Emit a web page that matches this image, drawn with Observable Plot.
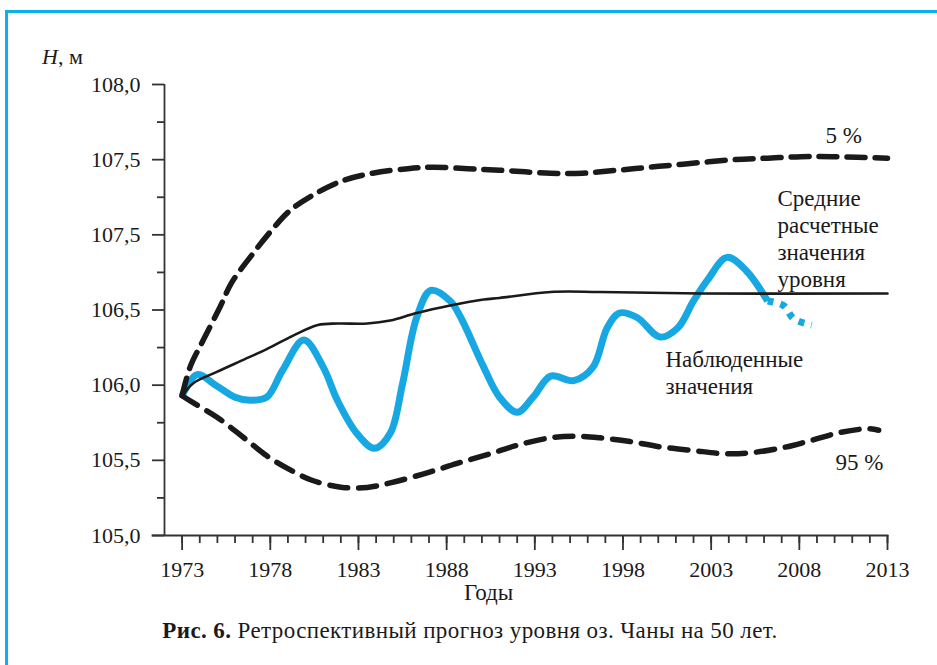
<!DOCTYPE html>
<html>
<head>
<meta charset="utf-8">
<script src="https://cdn.jsdelivr.net/npm/d3@7"></script>
<script src="https://cdn.jsdelivr.net/npm/@observablehq/plot@0.6"></script>
<style>
  html, body { margin: 0; padding: 0; background: #fff; }
  body { width: 937px; height: 665px; position: relative; overflow: hidden; font-family: 'Liberation Serif', serif; color: #1a1a1a; }
  #frame { position: absolute; left: 5px; top: 10px; right: 0; bottom: 0; border-left: 3px solid #0db0ec; border-top: 3px solid #0db0ec; }
  #chart { position: absolute; left: 0; top: 0; }
  #chart svg, #chart svg text { font-family: 'Liberation Serif', serif !important; }
  .lbl { position: absolute; font-family: 'Liberation Serif', serif; font-size: 22px; line-height: 22px; white-space: nowrap; }
</style>
</head>
<body>
<div id="frame"></div>
<div id="chart"></div>
<div class="lbl" style="left:42px; top:46px;"><i>H</i>, м</div>
<div class="lbl" style="left:464px; top:582px; font-size:23px;">Годы</div>
<div class="lbl" id="caption" style="left:0; width:940px; text-align:center; top:620px; font-size:23px; letter-spacing:0.4px;"><b>Рис. 6.</b> Ретроспективный прогноз уровня оз. Чаны на 50 лет.</div>
<script>
// ---- data ----
const upperYears  = [1973, 1973.45, 1974.2, 1975.15, 1975.8, 1976.85, 1978, 1979.1, 1980.5, 1982.1, 1983.8, 1985.8, 1987.2, 1989.2, 1991, 1993.9, 1995.7, 1997.7, 1999.5, 2001.4, 2004.3, 2006.2, 2008.1, 2009.9, 2013];
const upperValues = [105.93, 106.12, 106.30, 106.52, 106.68, 106.85, 107.02, 107.16, 107.27, 107.36, 107.41, 107.44, 107.45, 107.44, 107.43, 107.41, 107.41, 107.43, 107.45, 107.47, 107.50, 107.51, 107.52, 107.52, 107.51];

const lowerYears  = [1973, 1973.6, 1975.0, 1976.5, 1977.8, 1979.0, 1980.4, 1982.1, 1983.5, 1984.8, 1986.7, 1988.6, 1990.5, 1992.0, 1993.9, 1995.4, 1996.7, 1998.4, 2000.1, 2002.0, 2003.7, 2005.2, 2007.1, 2008.6, 2010.3, 2011.9, 2012.5];
const lowerValues = [105.93, 105.885, 105.785, 105.65, 105.53, 105.445, 105.366, 105.32, 105.32, 105.35, 105.41, 105.48, 105.545, 105.60, 105.65, 105.66, 105.65, 105.625, 105.59, 105.565, 105.545, 105.55, 105.585, 105.63, 105.685, 105.71, 105.70];

const meanYears  = [1973, 1973.6, 1975.0, 1976.5, 1977.8, 1979.3, 1980.7, 1981.8, 1983.5, 1984.8, 1986.3, 1988.2, 1990.1, 1991.0, 1993.9, 1996.7, 2002.4, 2013];
const meanValues = [105.925, 106.01, 106.09, 106.17, 106.24, 106.33, 106.40, 106.41, 106.41, 106.43, 106.48, 106.53, 106.57, 106.58, 106.62, 106.62, 106.61, 106.61];

const obsYears  = [1973.0, 1973.85, 1974.9, 1976.0, 1976.85, 1977.8, 1978.7, 1979.9, 1981.0, 1981.8, 1982.9, 1983.9, 1984.8, 1985.5, 1986.3, 1987.1, 1988.2, 1988.8, 1990.1, 1991.0, 1992.0, 1992.9, 1993.9, 1995.2, 1996.3, 1997.1, 1997.8, 1998.8, 2000.1, 2001.1, 2002.0, 2002.8, 2003.9, 2005.0, 2006.2];
const obsValues = [105.93, 106.07, 106.00, 105.92, 105.90, 105.92, 106.10, 106.30, 106.12, 105.90, 105.68, 105.58, 105.68, 106.01, 106.45, 106.63, 106.56, 106.45, 106.12, 105.92, 105.82, 105.92, 106.06, 106.03, 106.12, 106.38, 106.48, 106.45, 106.32, 106.38, 106.56, 106.70, 106.85, 106.76, 106.56];

const obsTailYears  = [2006.2, 2007.1, 2007.7, 2008.7];
const obsTailValues = [106.56, 106.53, 106.44, 106.40];

const xTickYears  = [1973, 1978, 1983, 1988, 1993, 1998, 2003, 2008, 2013];
const xMinorYears = d3.range(1973, 2014);
const yTicks      = [105.0, 105.5, 106.0, 106.5, 107.0, 107.5, 108.0];
const yTickLabels = ["105,0", "105,5", "106,0", "106,5", "107,5", "107,5", "108,0"];
const yMinorTicks = [105.25, 105.75, 106.25, 106.75, 107.25, 107.75];

const labels = [
  {year: 2009.48, value: 107.667, text: "5 %"},
  {year: 2006.76, value: 106.98, text: "Средние\nрасчетные\nзначения\nуровня"},
  {year: 2000.41, value: 106.088, text: "Наблюденные\nзначения"},
  {year: 2010.05, value: 105.49, text: "95 %"}
];

const xStart = 1971.32;   // left end of the x axis line
const yAxisYear = 1972;    // where the y axis line sits

const zip = (xs, ys) => xs.map((x, i) => ({year: x, value: ys[i]}));
const upper = zip(upperYears, upperValues);
const lower = zip(lowerYears, lowerValues);
const mean = zip(meanYears, meanValues);
const obs = zip(obsYears, obsValues);
const obsTail = zip(obsTailYears, obsTailValues);

const ink = "#1a1a1a";
const axisInk = "#333";
const blue = "#17a8e3";
const serif = "'Liberation Serif', serif";

const chart = Plot.plot({
  width: 937,
  height: 610,
  marginLeft: 152,
  marginRight: 50,
  marginTop: 84,
  marginBottom: 75,
  x: {domain: [xStart, 2013]},
  y: {domain: [105, 108]},
  style: {fontFamily: serif, fontSize: "22px", background: "transparent", color: ink, overflow: "visible"},
  marks: [
    Plot.frame({anchor: "bottom", stroke: axisInk, strokeWidth: 1.8}),
    Plot.ruleX([yAxisYear], {y1: 105, y2: 108, stroke: axisInk, strokeWidth: 1.8}),
    Plot.axisX({ticks: xMinorYears, tickSize: 8, tickFormat: () => "", stroke: axisInk, strokeWidth: 1.8, label: null}),
    Plot.axisX({ticks: xTickYears, tickSize: 15, tickPadding: 11, tickFormat: d => String(d), stroke: axisInk, strokeWidth: 1.8, fill: ink, fontSize: 22, fontFamily: serif, label: null}),
    Plot.axisY({ticks: yMinorTicks, tickSize: 7, dx: 12, tickFormat: () => "", stroke: axisInk, strokeWidth: 1.8, label: null}),
    Plot.axisY({ticks: yTicks, tickSize: 12, dx: 12, tickPadding: 12, tickFormat: d => yTickLabels[yTicks.indexOf(d)], stroke: axisInk, strokeWidth: 1.8, fill: ink, fontSize: 22, fontFamily: serif, label: null}),
    Plot.line(obs, {x: "year", y: "value", curve: "catmull-rom", stroke: blue, strokeWidth: 7, strokeLinecap: "butt"}),
    Plot.line(obsTail, {x: "year", y: "value", curve: "catmull-rom", stroke: blue, strokeWidth: 7, strokeLinecap: "butt", strokeDasharray: "6,7"}),
    Plot.line(upper, {x: "year", y: "value", curve: "catmull-rom", stroke: ink, strokeWidth: 5.5, strokeDasharray: "18,10"}),
    Plot.line(lower, {x: "year", y: "value", curve: "catmull-rom", stroke: ink, strokeWidth: 5.5, strokeDasharray: "18,11"}),
    Plot.line(mean, {x: "year", y: "value", curve: "catmull-rom", stroke: ink, strokeWidth: 2.6}),
    Plot.text(labels, {x: "year", y: "value", text: "text", textAnchor: "start", lineAnchor: "middle", lineHeight: 1.17, fontSize: 23, fontFamily: serif, fill: ink})
  ]
});
document.getElementById("chart").appendChild(chart);
</script>
</body>
</html>
